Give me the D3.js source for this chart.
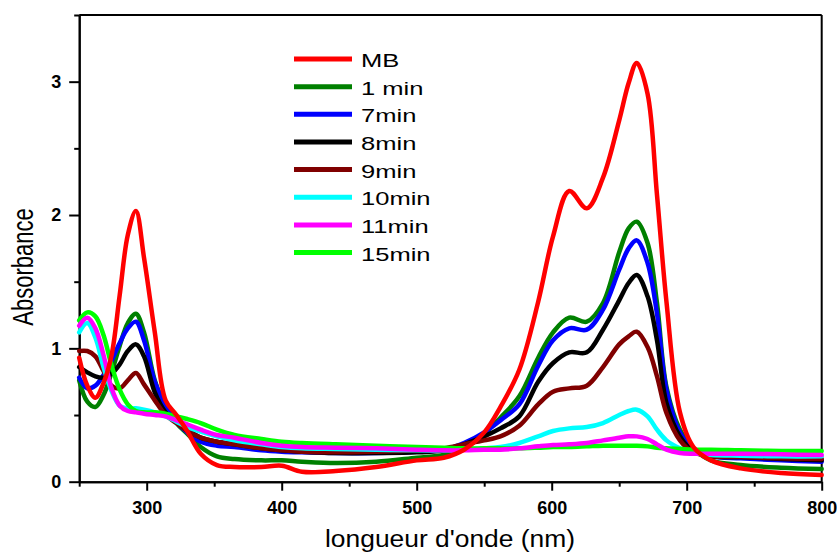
<!DOCTYPE html>
<html><head><meta charset="utf-8">
<script src="https://cdn.jsdelivr.net/npm/d3@7"></script>
<style>
html,body{margin:0;padding:0;background:#fff;}
svg{display:block;font-family:"Liberation Sans",Arial,sans-serif;}
</style></head>
<body>
<svg id="chart" width="837" height="552"></svg>
<script>
const wavelengths = [250,256,262,268,274,280,286,292,298,306,314,322,330,340,352,365,385,400,415,440,470,500,520,535,550,562,576,590,601,613,626,638,650,657,663,671,678,685,695,705,718,740,770,800];
const seriesNames = ["MB","1 min","7min","8min","9min","10min","11min","15min"];
const seriesColors = ["#ff0000","#008000","#0000ff","#000000","#800000","#00ffff","#ff00ff","#00ff00"];
const mb    = [0.93,0.72,0.63,0.74,0.95,1.40,1.85,2.03,1.68,1.12,0.61,0.50,0.38,0.21,0.125,0.11,0.11,0.12,0.075,0.08,0.11,0.16,0.18,0.24,0.37,0.56,0.84,1.35,1.84,2.18,2.05,2.28,2.71,2.99,3.14,2.91,2.15,1.35,0.52,0.26,0.16,0.10,0.065,0.05];
const min1  = [0.76,0.60,0.56,0.65,0.82,1.02,1.19,1.26,1.12,0.76,0.56,0.44,0.36,0.26,0.19,0.17,0.16,0.16,0.15,0.14,0.15,0.18,0.20,0.25,0.36,0.48,0.64,0.93,1.12,1.23,1.20,1.34,1.72,1.90,1.95,1.79,1.34,0.71,0.39,0.25,0.16,0.125,0.105,0.095];
const min7  = [0.78,0.70,0.72,0.80,0.91,1.04,1.15,1.20,1.06,0.75,0.57,0.45,0.37,0.30,0.27,0.26,0.235,0.225,0.22,0.215,0.215,0.225,0.24,0.29,0.37,0.46,0.58,0.87,1.06,1.15,1.14,1.29,1.59,1.75,1.81,1.64,1.26,0.69,0.37,0.24,0.19,0.175,0.16,0.15];
const min8  = [0.86,0.82,0.79,0.78,0.81,0.88,0.98,1.03,0.94,0.67,0.52,0.45,0.39,0.33,0.30,0.28,0.25,0.235,0.225,0.215,0.215,0.22,0.235,0.28,0.34,0.40,0.49,0.75,0.89,0.97,0.97,1.14,1.36,1.49,1.55,1.39,1.06,0.59,0.34,0.23,0.19,0.185,0.17,0.16];
const min9  = [0.98,0.98,0.94,0.83,0.72,0.70,0.76,0.815,0.73,0.61,0.50,0.44,0.38,0.33,0.30,0.28,0.25,0.235,0.225,0.22,0.225,0.235,0.25,0.28,0.31,0.34,0.42,0.58,0.675,0.70,0.72,0.86,1.03,1.09,1.125,1.01,0.79,0.515,0.31,0.22,0.19,0.185,0.175,0.17];
const min10 = [1.12,1.19,1.08,0.86,0.68,0.57,0.55,0.55,0.54,0.52,0.49,0.45,0.41,0.375,0.34,0.31,0.28,0.26,0.25,0.245,0.24,0.235,0.235,0.24,0.25,0.26,0.29,0.34,0.38,0.40,0.41,0.44,0.50,0.53,0.54,0.49,0.39,0.31,0.25,0.215,0.20,0.195,0.19,0.19];
const min11 = [1.17,1.23,1.15,0.95,0.70,0.57,0.53,0.52,0.51,0.50,0.49,0.46,0.43,0.39,0.35,0.33,0.29,0.27,0.26,0.255,0.25,0.24,0.235,0.235,0.24,0.24,0.25,0.265,0.275,0.28,0.29,0.31,0.33,0.34,0.34,0.32,0.28,0.24,0.215,0.21,0.21,0.21,0.205,0.20];
const min15 = [1.21,1.27,1.24,1.10,0.87,0.69,0.58,0.53,0.52,0.52,0.51,0.49,0.47,0.44,0.39,0.35,0.32,0.30,0.29,0.28,0.27,0.26,0.255,0.25,0.25,0.25,0.25,0.255,0.26,0.26,0.265,0.27,0.27,0.27,0.27,0.265,0.255,0.25,0.245,0.24,0.24,0.235,0.23,0.23];
const seriesValues = [mb,min1,min7,min8,min9,min10,min11,min15];
const xMajorTicks = [300,400,500,600,700,800];
const xMinorTicks = [250,350,450,550,650,750];
const yMajorTicks = [0,1,2,3];
const yMinorTicks = [0.5,1.5,2.5,3.5];
const xTitle = "longueur d'onde (nm)";
const yTitle = "Absorbance";

const svg = d3.select("#chart");
const L = 79.2, R = 821.7, T = 15, B = 481.7;
const x = d3.scaleLinear().domain([250,800]).range([L,R]);
const y = d3.scaleLinear().domain([0,3.5]).range([B,T]);

function styleAxis(g){
  g.select(".domain").attr("stroke","#000").attr("stroke-width",2);
  g.selectAll(".tick line").attr("stroke","#000").attr("stroke-width",2);
}
const gxMinor = svg.append("g").attr("transform",`translate(0,${B})`)
  .call(d3.axisBottom(x).tickValues(xMinorTicks).tickSize(5).tickSizeOuter(0).tickFormat(""));
styleAxis(gxMinor);
const gx = svg.append("g").attr("transform",`translate(0,${B})`)
  .call(d3.axisBottom(x).tickValues(xMajorTicks).tickSize(9).tickSizeOuter(0).tickPadding(6).tickFormat(d3.format("d")));
styleAxis(gx);
gx.selectAll(".tick text").attr("font-size",18).attr("font-weight","bold").attr("fill","#000")
  .attr("font-family","'Liberation Sans',Arial,sans-serif").attr("dy","0.95em");

const gyMinor = svg.append("g").attr("transform",`translate(${L},0)`)
  .call(d3.axisLeft(y).tickValues(yMinorTicks).tickSize(5).tickSizeOuter(0).tickFormat(""));
styleAxis(gyMinor);
const gy = svg.append("g").attr("transform",`translate(${L},0)`)
  .call(d3.axisLeft(y).tickValues(yMajorTicks).tickSize(10).tickSizeOuter(0).tickPadding(8).tickFormat(d3.format("d")));
styleAxis(gy);
gy.selectAll(".tick text").attr("font-size",18).attr("font-weight","bold").attr("fill","#000")
  .attr("font-family","'Liberation Sans',Arial,sans-serif");

svg.append("line").attr("x1",L).attr("x2",R).attr("y1",T).attr("y2",T).attr("stroke","#000").attr("stroke-width",2);
svg.append("line").attr("x1",R).attr("x2",R).attr("y1",T).attr("y2",B).attr("stroke","#000").attr("stroke-width",2);

const line = d3.line().x((d,i)=>x(wavelengths[i])).y(d=>y(d)).curve(d3.curveCatmullRom.alpha(0.5));
const drawOrder = [1,2,3,4,5,7,6,0];
const plot = svg.append("g");
drawOrder.forEach(k=>{
  plot.append("path").datum(seriesValues[k]).attr("d",line)
    .attr("fill","none").attr("stroke",seriesColors[k]).attr("stroke-width",4.5)
    .attr("stroke-linejoin","round").attr("stroke-linecap","round");
});

const leg = svg.append("g");
seriesNames.forEach((name,i)=>{
  const ly = 59 + i*27.65;
  leg.append("line").attr("x1",294).attr("x2",352).attr("y1",ly).attr("y2",ly)
    .attr("stroke",seriesColors[i]).attr("stroke-width",5);
  leg.append("text").attr("transform",`translate(361,${ly+8}) scale(1.42,1)`)
    .attr("font-size",18).attr("fill","#000").text(name);
});

svg.append("text").attr("transform","translate(450,547) scale(1.1,1)")
  .attr("text-anchor","middle").attr("font-size",24).attr("fill","#000").text(xTitle);
svg.append("text").attr("transform","translate(33,267) rotate(-90) scale(1,1.3)")
  .attr("text-anchor","middle").attr("font-size",22).attr("fill","#000").text(yTitle);
</script>
</body></html>
